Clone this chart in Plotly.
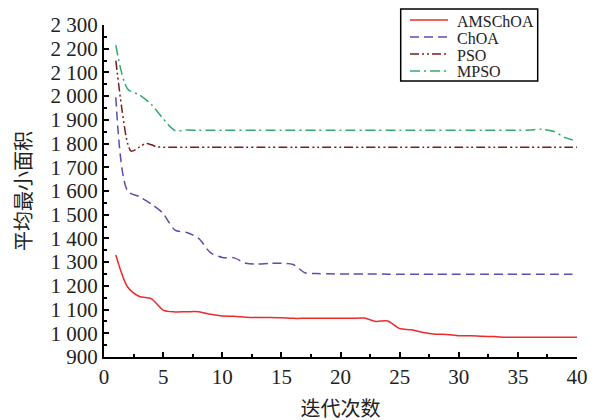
import plotly.graph_objects as go

# ---------------- data ----------------
x_iter = list(range(1, 41))

amschoa = [1330, 1195, 1155, 1146, 1098, 1090, 1091, 1091, 1080, 1073,
           1072, 1068, 1067, 1067, 1066, 1063, 1063, 1063, 1063, 1063,
           1063, 1064, 1050, 1052, 1020, 1015, 1003, 996, 995, 990,
           990, 987, 986, 983, 983, 983, 983, 983, 983, 983]

choa = [1995, 1600, 1576, 1545, 1505, 1435, 1425, 1400, 1340, 1320,
        1318, 1295, 1292, 1295, 1295, 1290, 1255, 1252, 1251, 1250,
        1250, 1250, 1250, 1249, 1249, 1249, 1249, 1249, 1249, 1249,
        1249, 1249, 1249, 1249, 1249, 1249, 1249, 1249, 1249, 1249]

pso_x = [1, 1.5, 2, 2.3, 3, 3.5, 4, 4.5, 5] + list(range(6, 41))
pso = [2150, 1950, 1800, 1768, 1785, 1800, 1795, 1786, 1785] + [1785] * 35

mpso = [2215, 2030, 2005, 1965, 1905, 1855, 1857, 1856, 1856, 1856,
        1856, 1856, 1856, 1856, 1856, 1856, 1856, 1856, 1856, 1856,
        1856, 1856, 1856, 1856, 1856, 1856, 1856, 1856, 1856, 1856,
        1856, 1856, 1856, 1856, 1856, 1857, 1860, 1852, 1825, 1810]

y_tickvals = [900, 1000, 1100, 1200, 1300, 1400, 1500, 1600, 1700, 1800,
              1900, 2000, 2100, 2200, 2300]
y_ticktext = ["900", "1 000", "1 100", "1 200", "1 300", "1 400", "1 500",
              "1 600", "1 700", "1 800", "1 900", "2 000", "2 100", "2 200",
              "2 300"]
x_tickvals = [0, 5, 10, 15, 20, 25, 30, 35, 40]

names = ["AMSChOA", "ChOA", "PSO", "MPSO"]
x_title = "迭代次数"
y_title = "平均最小面积"

# ---------------- styles ----------------
serif = "Liberation Serif, Times New Roman, Noto Sans CJK SC, serif"
colors = ["#ee2a2a", "#5550b0", "#7a1c1c", "#33aa6a"]
dashes = ["solid", "9px,5px", "9px,3px,2px,3px,2px,3px", "10px,4px,2px,4px"]

# page offset of the plot div (default body margin)
OFF = 8
W, H = 598 - OFF, 420 - OFF
# target plot box in window pixels: left 104, right 577, top 25, bottom 357
ML, MR, MT, MB = 104 - OFF, 21, 25 - OFF, 63
PW, PH = W - ML - MR, H - MT - MB


def px_x(p):
    return (p - OFF - ML) / PW


def px_y(p):
    return (H - MB - (p - OFF)) / PH


fig = go.Figure()
series = [(x_iter, amschoa), (x_iter, choa), (pso_x, pso), (x_iter, mpso)]
for (xs, ys), nm, c, d in zip(series, names, colors, dashes):
    fig.add_trace(go.Scatter(x=xs, y=ys, name=nm, mode="lines", showlegend=False,
                             line=dict(color=c, width=1.5, dash=d,
                                       shape="spline", smoothing=0.8)))

# ---------------- legend (drawn in paper space) ----------------
shapes = [dict(type="rect", xref="paper", yref="paper",
               x0=px_x(400.7), x1=px_x(537.7), y0=px_y(81), y1=px_y(9),
               line=dict(color="black", width=1.5), fillcolor="white", layer="above")]
annotations = []
row_y = [20, 37, 54, 71]
for nm, c, d, ry in zip(names, colors, dashes, row_y):
    shapes.append(dict(type="line", xref="paper", yref="paper",
                       x0=px_x(410), x1=px_x(448), y0=px_y(ry), y1=px_y(ry),
                       line=dict(color=c, width=1.5, dash=d), layer="above"))
    annotations.append(dict(xref="paper", yref="paper", x=px_x(455), y=px_y(ry + 1),
                            xanchor="left", yanchor="middle", text=nm, showarrow=False,
                            font=dict(family=serif, size=16, color="#222")))

fig.update_layout(
    width=W, height=H,
    margin=dict(l=ML, r=MR, t=MT, b=MB),
    paper_bgcolor="white", plot_bgcolor="white",
    font=dict(family=serif, color="#222", size=20),
    showlegend=False,
    shapes=shapes, annotations=annotations,
)

fig.update_xaxes(range=[0, 40], tickvals=x_tickvals, showline=True, automargin=False,
                 linecolor="black", linewidth=2, ticks="inside", ticklen=5,
                 tickwidth=1.5, tickcolor="black", showgrid=False, zeroline=False,
                 tickfont=dict(size=21, family=serif),
                 minor=dict(dtick=2.5, ticks="inside", ticklen=3, tickwidth=1.5,
                            tickcolor="black", showgrid=False),
                 title=dict(text=x_title, font=dict(size=20), standoff=16))
fig.update_yaxes(range=[900, 2300], tickvals=y_tickvals, ticktext=y_ticktext,
                 showline=True, linecolor="black", linewidth=2, ticks="inside",
                 automargin=False,
                 ticklen=5, tickwidth=1.5, tickcolor="black", showgrid=False,
                 zeroline=False, tickfont=dict(size=21, family=serif),
                 minor=dict(tickvals=[v + 50 for v in y_tickvals[:-1]], ticks="inside",
                            ticklen=3, tickwidth=1.5, tickcolor="black", showgrid=False),
                 title=dict(text=y_title, font=dict(size=20), standoff=14))

fig.write_html("out.html")
